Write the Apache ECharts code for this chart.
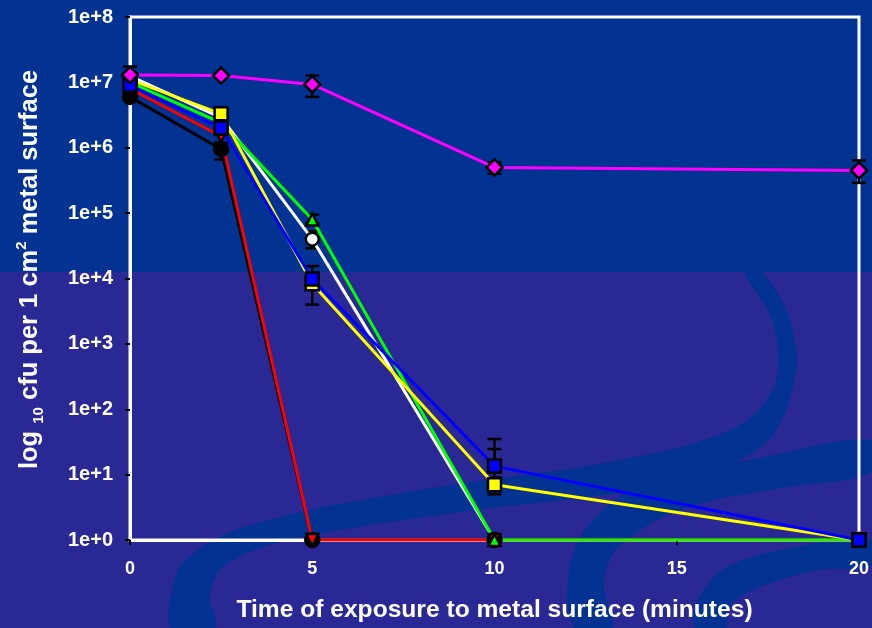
<!DOCTYPE html>
<html>
<head>
<meta charset="utf-8">
<script src="https://cdn.jsdelivr.net/npm/echarts@6/dist/echarts.min.js"></script>
<style>
  html, body { margin: 0; padding: 0; background: #2a2894; }
  #chart { width: 872px; height: 628px; }
</style>
</head>
<body>
<div id="chart"></div>
<script>
// Exposure times (minutes)
const times = [0, 2.5, 5, 10, 20];
const xTicks = [0, 5, 10, 15, 20];
const yTickLabels = ['1e+0', '1e+1', '1e+2', '1e+3', '1e+4', '1e+5', '1e+6', '1e+7', '1e+8'];

// Viable counts (cfu per cm2) for each surface
const blackVals   = [6.0e6, 9.5e5, 1, 1, 1];
const redVals     = [8.0e6, 1.5e6, 1, 1, 1];
const whiteVals   = [1.25e7, 2.9e6, 4.0e4, 1, 1];
const greenVals   = [1.0e7, 2.4e6, 8.0e4, 1, 1];
const blueVals    = [9.0e6, 2.0e6, 9.8e3, 13.5, 1];
const yellowVals  = [1.1e7, 3.3e6, 8.3e3, 7, 1];
const magentaVals = [1.3e7, 1.27e7, 9.3e6, 5.0e5, 4.5e5];

// Error bars: [time, low, high]
const errBars = [
  [0, 1.05e7, 1.75e7],
  [0, 5.5e6, 7.0e6],
  [2.5, 6.6e5, 1.2e6],
  [2.5, 3.0e6, 3.8e6],
  [5, 6.0e6, 1.27e7],
  [5, 2.9e4, 5.3e4],
  [5, 7.0e4, 9.5e4],
  [5, 7.0e3, 1.55e4],
  [5, 4.0e3, 1.2e4],
  [10, 4.0e5, 6.0e5],
  [10, 9, 35],
  [10, 5, 24.6],
  [20, 2.9e5, 6.4e5]
];

const chart = echarts.init(document.getElementById('chart'));

function pairs(vals) { return times.map((t, i) => [t, vals[i]]); }

function lineSeries(name, vals, color, symbol, size, rotate) {
  return {
    name: name,
    type: 'line',
    data: pairs(vals),
    symbol: symbol,
    symbolSize: size,
    symbolRotate: rotate || 0,
    showAllSymbol: true,
    lineStyle: { color: color, width: 3 },
    itemStyle: { color: color, borderColor: '#000', borderWidth: 2.5 },
    emphasis: { disabled: true },
    z: 3
  };
}

const bgTop = '#023393';
const bgBottom = '#2a2894';

// Decorative swirl bands in the slide background
const swirlBands = [
  [[745,272],[772,320],[776,380],[740,425],[620,460],[420,490],[250,525],[185,560],[170,600],[172,628],
   [215,628],[210,595],[225,565],[290,540],[460,512],[650,487],[760,448],[795,380],[790,320],[762,272]],
  [[872,440],[760,458],[640,485],[585,530],[568,580],[575,628],
   [612,628],[604,585],[618,548],[680,510],[780,488],[872,472]],
  [[872,540],[790,548],[725,568],[698,600],[695,628],
   [725,628],[730,605],[765,585],[820,570],[872,565]]
];

const option = {
  animation: false,
  backgroundColor: bgBottom,
  textStyle: { fontFamily: 'Liberation Sans, Arial, sans-serif' },
  graphic: [
    { type: 'rect', z: -10, silent: true, shape: { x: 0, y: 0, width: 872, height: 272 }, style: { fill: bgTop } }
  ].concat(swirlBands.map(pts => ({
    type: 'polygon', z: -9, silent: true,
    shape: { points: pts, smooth: 0.35 },
    style: { fill: bgTop }
  }))),
  grid: {
    left: 130, right: 12, top: 17, bottom: 86,
    show: true, borderColor: '#ffffff', borderWidth: 3, backgroundColor: 'transparent'
  },
  xAxis: {
    type: 'value',
    min: 0, max: 20, interval: 5,
    name: 'Time of exposure to metal surface (minutes)',
    nameLocation: 'middle',
    nameGap: 58,
    nameTextStyle: { color: '#fff', fontSize: 24.6, fontWeight: 'bold' },
    axisLine: { show: true, lineStyle: { color: '#fff', width: 3 } },
    axisTick: { show: true, length: 5, lineStyle: { color: '#000', width: 2 } },
    axisLabel: {
      color: '#fff', fontSize: 18, fontWeight: 'bold', margin: 20,
      formatter: v => (xTicks.indexOf(v) >= 0 ? String(v) : '')
    },
    splitLine: { show: false }
  },
  yAxis: {
    type: 'log',
    logBase: 10,
    min: 1, max: 1e8,
    name: '{m|log }{sub|10}{m| cfu per 1 cm}{sup|2}{m| metal surface}',
    nameLocation: 'middle',
    nameGap: 84,
    nameRotate: 90,
    nameTextStyle: {
      color: '#fff', fontSize: 25.5, fontWeight: 'bold',
      padding: [0, 0, 0, 18],
      rich: {
        m: { color: '#fff', fontSize: 25.5, fontWeight: 'bold', lineHeight: 32, verticalAlign: 'middle' },
        sub: { color: '#fff', fontSize: 15, fontWeight: 'bold', lineHeight: 14, verticalAlign: 'bottom' },
        sup: { color: '#fff', fontSize: 15, fontWeight: 'bold', lineHeight: 14, verticalAlign: 'top' }
      }
    },
    axisLine: { show: true, lineStyle: { color: '#fff', width: 3 } },
    axisTick: { show: true, length: 5, lineStyle: { color: '#000', width: 2 } },
    axisLabel: {
      color: '#fff', fontSize: 20, fontWeight: 'bold', margin: 17,
      formatter: v => yTickLabels[Math.round(Math.log10(v))] || ''
    },
    splitLine: { show: false }
  },
  series: [
    {
      name: 'error',
      type: 'custom',
      data: errBars,
      encode: { x: 0, y: [1, 2] },
      z: 2,
      silent: true,
      renderItem: function (params, api) {
        const lo = api.coord([api.value(0), api.value(1)]);
        const hi = api.coord([api.value(0), api.value(2)]);
        const w = 7;
        const st = { stroke: '#000', lineWidth: 2.5 };
        return {
          type: 'group',
          children: [
            { type: 'line', shape: { x1: lo[0], y1: lo[1], x2: hi[0], y2: hi[1] }, style: st },
            { type: 'line', shape: { x1: lo[0] - w, y1: lo[1], x2: lo[0] + w, y2: lo[1] }, style: st },
            { type: 'line', shape: { x1: hi[0] - w, y1: hi[1], x2: hi[0] + w, y2: hi[1] }, style: st }
          ]
        };
      }
    },
    lineSeries('white', whiteVals, '#ffffff', 'circle', 13),
    lineSeries('black', blackVals, '#000000', 'circle', 14),
    lineSeries('red', redVals, '#ff0000', 'triangle', 12, 180),
    lineSeries('green', greenVals, '#00ff00', 'triangle', 12),
    lineSeries('yellow', yellowVals, '#ffff00', 'rect', 13),
    lineSeries('blue', blueVals, '#0000ff', 'rect', 13),
    lineSeries('magenta', magentaVals, '#ff00ff', 'diamond', 16)
  ]
};

chart.setOption(option);
</script>
</body>
</html>
